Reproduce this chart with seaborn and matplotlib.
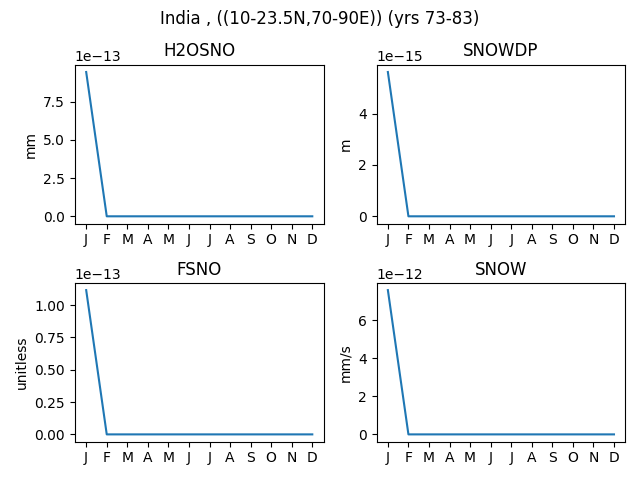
import numpy as np
import pandas as pd
import seaborn as sns
import matplotlib
matplotlib.use("Agg")
import matplotlib.pyplot as plt

months = ["J", "F", "M", "A", "M", "J", "J", "A", "S", "O", "N", "D"]

h2osno = [9.45e-13, 0, 0, 0, 0, 0, 0, 0, 0, 0, 0, 0]
snowdp = [5.62e-15, 0, 0, 0, 0, 0, 0, 0, 0, 0, 0, 0]
fsno = [1.116e-13, 0, 0, 0, 0, 0, 0, 0, 0, 0, 0, 0]
snow = [7.6e-12, 0, 0, 0, 0, 0, 0, 0, 0, 0, 0, 0]

variables = ["H2OSNO", "SNOWDP", "FSNO", "SNOW"]
units = ["mm", "m", "unitless", "mm/s"]
series = [h2osno, snowdp, fsno, snow]

fig, axs = plt.subplots(2, 2, figsize=(6.4, 4.8), dpi=100)
for ax, name, unit, vals in zip(axs.flat, variables, units, series):
    df = pd.DataFrame({"month": np.arange(len(months)), "value": vals})
    sns.lineplot(data=df, x="month", y="value", ax=ax, color="#1f77b4")
    ax.set_xticks(np.arange(len(months)))
    ax.set_xticklabels(months)
    ax.set_title(name)
    ax.set_ylabel(unit)
    ax.set_xlabel("")

fig.suptitle("India , ((10-23.5N,70-90E)) (yrs 73-83)")
fig.subplots_adjust(left=0.117, right=0.977, top=0.865, bottom=0.08,
                    wspace=0.213, hspace=0.374)
fig.savefig("out.png", dpi=100)
plt.close()
